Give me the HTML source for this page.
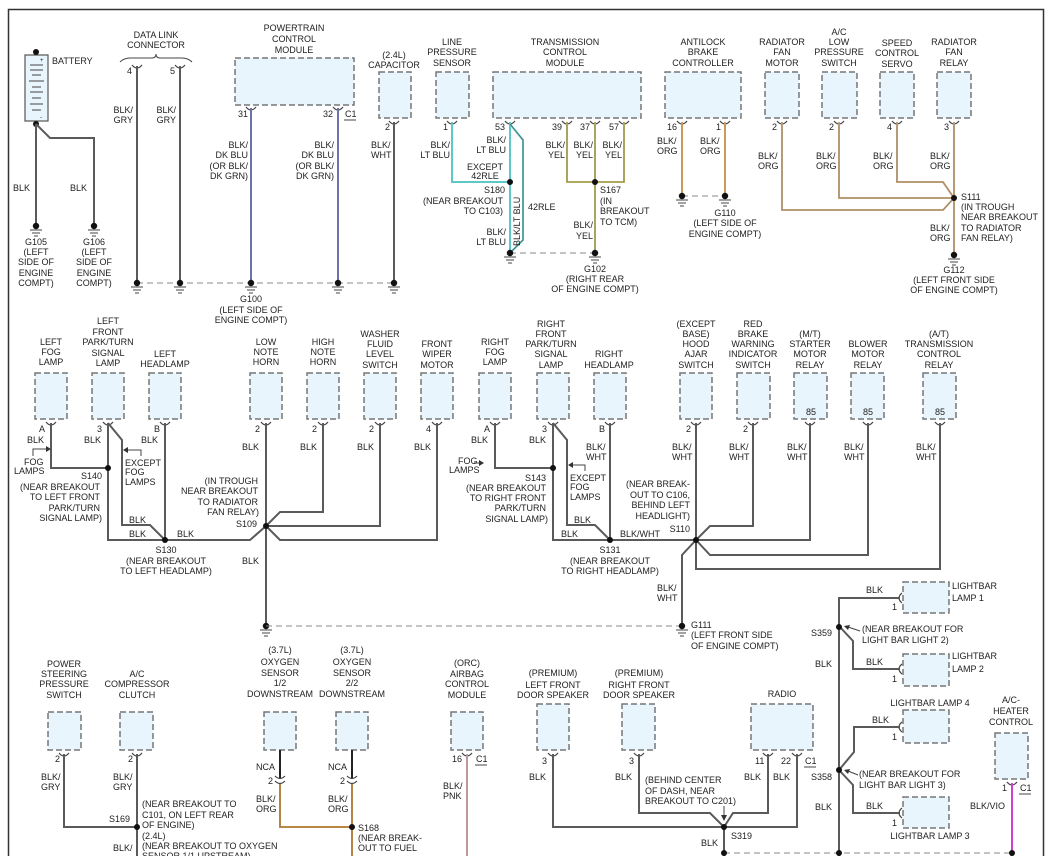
<!DOCTYPE html>
<html><head><meta charset="utf-8"><style>
html,body{margin:0;padding:0;background:#fff;}
svg{display:block;}
text{font-family:"Liberation Sans",Arial,sans-serif;font-size:9px;fill:#222;}
.c{text-anchor:middle}
.r{text-anchor:end}
.b{fill:#e8f5fc;stroke:#777;stroke-width:1.5;stroke-dasharray:6,3}
.w{fill:none;stroke:#5a5a5a;stroke-width:2}
.p{fill:none;stroke:#444;stroke-width:1.2}
.d{fill:none;stroke:#888;stroke-width:1;stroke-dasharray:6,4}
</style></head><body>
<svg width="1049" height="856" viewBox="0 0 1049 856" xmlns="http://www.w3.org/2000/svg">
<defs>
<g id="gnd"><circle cx="0" cy="0" r="3.2" fill="#111"/><path d="M-6 4h12M-4 7h8M-2 10h4" stroke="#444" stroke-width="1"/></g>
<g id="pin"><path d="M-5 -3q5 6 10 0" fill="none" stroke="#444" stroke-width="1.2"/></g>
<g id="pinL"><path d="M3 -5q-6 5 0 10" fill="none" stroke="#444" stroke-width="1.2"/></g>
</defs>
<rect x="8.5" y="9.5" width="1035" height="870" fill="none" stroke="#333" stroke-width="1.5"/>

<!-- Battery -->
<rect x="25" y="55" width="23" height="66" fill="#e8f5fc" stroke="#555" stroke-width="1.2"/>
<path d="M30 65h13M30 70h13M32 75h9M29 81h15M32 87h9M30 92h13M32 98h9M30 104h13M32 110h9" stroke="#444" stroke-width="1"/>
<text x="40" y="62" style="font-size:6px">+</text><text x="40" y="119" style="font-size:6px">-</text>
<circle cx="36" cy="52" r="3" fill="#111"/><circle cx="36" cy="124" r="3" fill="#111"/>
<text x="52" y="64">BATTERY</text>
<path class="w" d="M36 124V226M36 124L50 138H94V226"/>
<use href="#gnd" x="36" y="226"/><use href="#gnd" x="94" y="226"/>
<text x="13" y="191">BLK</text><text x="70" y="191">BLK</text>
<g class="c"><text x="36" y="245">G105</text><text x="36" y="255">(LEFT</text><text x="36" y="265">SIDE OF</text><text x="36" y="276">ENGINE</text><text x="36" y="286">COMPT)</text>
<text x="94" y="245">G106</text><text x="94" y="255">(LEFT</text><text x="94" y="265">SIDE OF</text><text x="94" y="276">ENGINE</text><text x="94" y="286">COMPT)</text></g>

<!-- Data link -->
<g class="c"><text x="156" y="38">DATA LINK</text><text x="156" y="48">CONNECTOR</text></g>
<path d="M120 62q4-4 10-4h22q4 0 4-4q0 4 4 4h22q6 0 10 4" fill="none" stroke="#444" stroke-width="1"/>
<use href="#pin" x="137" y="68"/><use href="#pin" x="180" y="68"/>
<text x="127" y="74">4</text><text x="170" y="74">5</text>
<path class="w" d="M137 66V283M180 66V283"/>
<g class="r"><text x="133" y="113">BLK/</text><text x="133" y="123">GRY</text><text x="176" y="113">BLK/</text><text x="176" y="123">GRY</text></g>

<!-- PCM -->
<g class="c"><text x="294" y="31">POWERTRAIN</text><text x="294" y="42">CONTROL</text><text x="294" y="53">MODULE</text></g>
<rect class="b" x="235" y="58" width="119" height="47"/>
<use href="#pin" x="251" y="110"/><use href="#pin" x="338" y="110"/>
<text x="238" y="117">31</text><text x="323" y="117">32</text><text x="345" y="117">C1</text><path d="M344 120h12" stroke="#444"/>
<path d="M251 108V283M338 108V283" stroke="#6a74a8" stroke-width="2" fill="none"/>
<g class="r"><text x="248" y="148">BLK/</text><text x="248" y="158">DK BLU</text><text x="248" y="169">(OR BLK/</text><text x="248" y="179">DK GRN)</text>
<text x="334" y="148">BLK/</text><text x="334" y="158">DK BLU</text><text x="334" y="169">(OR BLK/</text><text x="334" y="179">DK GRN)</text></g>

<!-- Capacitor -->
<g class="c"><text x="394" y="58">(2.4L)</text><text x="394" y="68">CAPACITOR</text></g>
<rect class="b" x="379" y="72" width="32" height="46"/>
<use href="#pin" x="394" y="124"/><text x="385" y="130">2</text>
<path class="w" d="M394 122V283"/>
<text x="371" y="148">BLK/</text><text x="371" y="158">WHT</text>
<path class="d" d="M137 283H394"/>
<use href="#gnd" x="137" y="283"/><use href="#gnd" x="180" y="283"/><use href="#gnd" x="251" y="283"/><use href="#gnd" x="338" y="283"/><use href="#gnd" x="394" y="283"/>
<g class="c"><text x="251" y="302">G100</text><text x="251" y="313">(LEFT SIDE OF</text><text x="251" y="323">ENGINE COMPT)</text></g>

<!-- Line pressure -->
<g class="c"><text x="452" y="45">LINE</text><text x="452" y="55">PRESSURE</text><text x="452" y="66">SENSOR</text></g>
<rect class="b" x="436" y="72" width="33" height="46"/>
<use href="#pin" x="452" y="124"/><text x="443" y="130">1</text>
<path d="M452 122V182H510" stroke="#5cc8c8" stroke-width="2" fill="none"/>
<g class="r"><text x="450" y="148">BLK/</text><text x="450" y="158">LT BLU</text></g>

<!-- TCM -->
<g class="c"><text x="565" y="45">TRANSMISSION</text><text x="565" y="55">CONTROL</text><text x="565" y="66">MODULE</text></g>
<rect class="b" x="493" y="72" width="148" height="46"/>
<use href="#pin" x="510" y="124"/><use href="#pin" x="567" y="124"/><use href="#pin" x="595" y="124"/><use href="#pin" x="624" y="124"/>
<text x="495" y="130">53</text><text x="552" y="130">39</text><text x="580" y="130">37</text><text x="609" y="130">57</text>
<path d="M510 122V253M510 124L523 140V240L510 253" stroke="#5cc8c8" stroke-width="2" fill="none"/>
<path d="M510 124L523 140V240L510 253" stroke="#555" stroke-width="0.6" fill="none"/>
<circle cx="510" cy="182" r="3" fill="#111"/>
<text transform="translate(520,246) rotate(-90)" style="font-size:9px">BLK/LT BLU</text>
<text x="528" y="210">42RLE</text>
<g class="r"><text x="506" y="143">BLK/</text><text x="506" y="153">LT BLU</text>
<text x="505" y="193">S180</text><text x="503" y="204">(NEAR BREAKOUT</text><text x="503" y="214">TO C103)</text>
<text x="506" y="235">BLK/</text><text x="506" y="245">LT BLU</text></g>
<g class="c"><text x="485" y="170">EXCEPT</text><text x="485" y="179">42RLE</text></g>
<path d="M567 122V182H624V122M595 122V253" stroke="#c8bf5a" stroke-width="2" fill="none"/>
<path d="M567 122V182H624V122M595 122V253" stroke="#666" stroke-width="0.6" fill="none"/>
<circle cx="595" cy="182" r="3" fill="#111"/>
<g class="r"><text x="565" y="148">BLK/</text><text x="565" y="158">YEL</text><text x="593" y="148">BLK/</text><text x="593" y="158">YEL</text><text x="622" y="148">BLK/</text><text x="622" y="158">YEL</text>
<text x="593" y="228">BLK/</text><text x="593" y="239">YEL</text></g>
<text x="600" y="193">S167</text><text x="600" y="204">(IN</text><text x="600" y="214">BREAKOUT</text><text x="600" y="225">TO TCM)</text>
<path class="d" d="M510 253H595"/>
<use href="#gnd" x="510" y="253"/><use href="#gnd" x="595" y="253"/>
<g class="c"><text x="595" y="272">G102</text><text x="595" y="282">(RIGHT REAR</text><text x="595" y="292">OF ENGINE COMPT)</text></g>

<!-- ABC -->
<g class="c"><text x="703" y="45">ANTILOCK</text><text x="703" y="55">BRAKE</text><text x="703" y="66">CONTROLLER</text></g>
<rect class="b" x="665" y="72" width="76" height="46"/>
<use href="#pin" x="682" y="124"/><use href="#pin" x="725" y="124"/>
<text x="667" y="130">16</text><text x="716" y="130">1</text>
<path d="M682 122V196M725 122V196" stroke="#c99a5a" stroke-width="2" fill="none"/>
<path class="d" d="M682 196H725"/>
<use href="#gnd" x="682" y="196"/><use href="#gnd" x="725" y="196"/>
<text x="657" y="144">BLK/</text><text x="657" y="154">ORG</text><text x="700" y="144">BLK/</text><text x="700" y="154">ORG</text>
<g class="c"><text x="725" y="216">G110</text><text x="725" y="226">(LEFT SIDE OF</text><text x="725" y="237">ENGINE COMPT)</text></g>

<!-- Radiator fan etc -->
<g class="c"><text x="782" y="45">RADIATOR</text><text x="782" y="55">FAN</text><text x="782" y="66">MOTOR</text>
<text x="839" y="35">A/C</text><text x="839" y="45">LOW</text><text x="839" y="55">PRESSURE</text><text x="839" y="66">SWITCH</text>
<text x="897" y="46">SPEED</text><text x="897" y="56">CONTROL</text><text x="897" y="67">SERVO</text>
<text x="954" y="45">RADIATOR</text><text x="954" y="55">FAN</text><text x="954" y="66">RELAY</text></g>
<rect class="b" x="765" y="72" width="34" height="46"/><rect class="b" x="822" y="72" width="35" height="46"/><rect class="b" x="880" y="72" width="34" height="46"/><rect class="b" x="937" y="72" width="34" height="46"/>
<use href="#pin" x="782" y="124"/><use href="#pin" x="839" y="124"/><use href="#pin" x="897" y="124"/><use href="#pin" x="954" y="124"/>
<text x="772" y="130">2</text><text x="829" y="130">2</text><text x="887" y="130">4</text><text x="944" y="130">3</text>
<path d="M782 122V210H943L954 198M839 122V198H954M897 122V182H943L954 198M954 122V255" stroke="#d0a878" stroke-width="2" fill="none"/>
<path d="M782 122V210H943L954 198M839 122V198H954M897 122V182H943L954 198M954 122V255" stroke="#777" stroke-width="0.6" fill="none"/>
<circle cx="954" cy="198" r="3" fill="#111"/>
<use href="#gnd" x="954" y="255"/>
<text x="758" y="159">BLK/</text><text x="758" y="169">ORG</text><text x="816" y="159">BLK/</text><text x="816" y="169">ORG</text><text x="873" y="159">BLK/</text><text x="873" y="169">ORG</text><text x="930" y="159">BLK/</text><text x="930" y="169">ORG</text>
<text x="930" y="231">BLK/</text><text x="930" y="241">ORG</text>
<text x="961" y="200">S111</text><text x="961" y="210">(IN TROUGH</text><text x="961" y="220">NEAR BREAKOUT</text><text x="961" y="231">TO RADIATOR</text><text x="961" y="241">FAN RELAY)</text>
<g class="c"><text x="954" y="273">G112</text><text x="954" y="283">(LEFT FRONT SIDE</text><text x="954" y="293">OF ENGINE COMPT)</text></g>

<!-- ===== MIDDLE ROW ===== -->
<g class="c">
<text x="51" y="345">LEFT</text><text x="51" y="355">FOG</text><text x="51" y="365">LAMP</text>
<text x="108" y="335">FRONT</text><text x="108" y="345">PARK/TURN</text><text x="108" y="356">SIGNAL</text><text x="108" y="366">LAMP</text><text x="108" y="324">LEFT</text>
<text x="165" y="357">LEFT</text><text x="165" y="367">HEADLAMP</text>
<text x="266" y="345">LOW</text><text x="266" y="355">NOTE</text><text x="266" y="365">HORN</text>
<text x="323" y="345">HIGH</text><text x="323" y="355">NOTE</text><text x="323" y="365">HORN</text>
<text x="380" y="337">WASHER</text><text x="380" y="347">FLUID</text><text x="380" y="357">LEVEL</text><text x="380" y="368">SWITCH</text>
<text x="437" y="347">FRONT</text><text x="437" y="357">WIPER</text><text x="437" y="368">MOTOR</text>
<text x="495" y="345">RIGHT</text><text x="495" y="355">FOG</text><text x="495" y="365">LAMP</text>
<text x="551" y="327">RIGHT</text><text x="551" y="337">FRONT</text><text x="551" y="347">PARK/TURN</text><text x="551" y="357">SIGNAL</text><text x="551" y="368">LAMP</text>
<text x="609" y="357">RIGHT</text><text x="609" y="368">HEADLAMP</text>
<text x="696" y="327">(EXCEPT</text><text x="696" y="337">BASE)</text><text x="696" y="347">HOOD</text><text x="696" y="357">AJAR</text><text x="696" y="368">SWITCH</text>
<text x="753" y="327">RED</text><text x="753" y="337">BRAKE</text><text x="753" y="347">WARNING</text><text x="753" y="357">INDICATOR</text><text x="753" y="368">SWITCH</text>
<text x="810" y="337">(M/T)</text><text x="810" y="347">STARTER</text><text x="810" y="357">MOTOR</text><text x="810" y="368">RELAY</text>
<text x="868" y="347">BLOWER</text><text x="868" y="357">MOTOR</text><text x="868" y="368">RELAY</text>
<text x="939" y="337">(A/T)</text><text x="939" y="347">TRANSMISSION</text><text x="939" y="357">CONTROL</text><text x="939" y="368">RELAY</text>
</g>
<rect class="b" x="35" y="373" width="32" height="46"/><rect class="b" x="92" y="373" width="32" height="46"/><rect class="b" x="149" y="373" width="32" height="46"/>
<rect class="b" x="250" y="373" width="32" height="46"/><rect class="b" x="307" y="373" width="32" height="46"/><rect class="b" x="364" y="373" width="32" height="46"/><rect class="b" x="421" y="373" width="32" height="46"/>
<rect class="b" x="479" y="373" width="32" height="46"/><rect class="b" x="537" y="373" width="32" height="46"/><rect class="b" x="594" y="373" width="32" height="46"/>
<rect class="b" x="680" y="373" width="32" height="46"/><rect class="b" x="737" y="373" width="33" height="46"/><rect class="b" x="794" y="373" width="33" height="46"/><rect class="b" x="851" y="373" width="33" height="46"/><rect class="b" x="923" y="373" width="33" height="46"/>
<g class="c"><text x="811" y="415">85</text><text x="868" y="415">85</text><text x="940" y="415">85</text></g>
<g>
<use href="#pin" x="51" y="425"/><use href="#pin" x="108" y="425"/><use href="#pin" x="165" y="425"/><use href="#pin" x="266" y="425"/><use href="#pin" x="323" y="425"/><use href="#pin" x="380" y="425"/><use href="#pin" x="437" y="425"/>
<use href="#pin" x="495" y="425"/><use href="#pin" x="553" y="425"/><use href="#pin" x="610" y="425"/><use href="#pin" x="696" y="425"/><use href="#pin" x="753" y="425"/><use href="#pin" x="810" y="425"/><use href="#pin" x="868" y="425"/><use href="#pin" x="940" y="425"/>
</g>
<text x="39" y="432">A</text><text x="97" y="432">3</text><text x="154" y="432">B</text><text x="255" y="432">2</text><text x="312" y="432">2</text><text x="369" y="432">2</text><text x="426" y="432">4</text>
<text x="484" y="432">A</text><text x="542" y="432">3</text><text x="599" y="432">B</text><text x="686" y="432">2</text><text x="743" y="432">2</text>
<text x="27" y="443">BLK</text><text x="84" y="443">BLK</text><text x="141" y="443">BLK</text>
<text x="242" y="450">BLK</text><text x="300" y="450">BLK</text><text x="357" y="450">BLK</text><text x="414" y="450">BLK</text>
<text x="471" y="443">BLK</text><text x="529" y="443">BLK</text>
<text x="586" y="450">BLK/</text><text x="586" y="460">WHT</text><text x="672" y="450">BLK/</text><text x="672" y="460">WHT</text><text x="729" y="450">BLK/</text><text x="729" y="460">WHT</text><text x="787" y="450">BLK/</text><text x="787" y="460">WHT</text><text x="844" y="450">BLK/</text><text x="844" y="460">WHT</text><text x="916" y="450">BLK/</text><text x="916" y="460">WHT</text>

<path class="w" d="M51 423V468H108M108 423V540H165M108 423L122 440V525H150L165 540M165 423V540H250L266 526M266 423V626M323 423V512H280L266 526M380 423V526H266M437 423V540H280L266 526"/>
<circle cx="108" cy="468" r="3" fill="#111"/><circle cx="165" cy="540" r="3" fill="#111"/><circle cx="266" cy="526" r="3" fill="#111"/>
<path d="M33 456V449H47" stroke="#444" fill="none"/><path d="M51 449l-5-3v6z" fill="#333"/>
<text x="24" y="465">FOG</text><text x="14" y="474">LAMPS</text>
<path d="M141 456V450H127" stroke="#444" fill="none"/><path d="M123 450l5-3v6z" fill="#333"/>
<text x="125" y="466">EXCEPT</text><text x="125" y="475">FOG</text><text x="125" y="485">LAMPS</text>
<g class="r"><text x="102" y="479">S140</text><text x="100" y="490">(NEAR BREAKOUT</text><text x="100" y="500">TO LEFT FRONT</text><text x="100" y="511">PARK/TURN</text><text x="102" y="521">SIGNAL LAMP)</text>
<text x="258" y="484">(IN TROUGH</text><text x="258" y="494">NEAR BREAKOUT</text><text x="258" y="505">TO RADIATOR</text><text x="259" y="515">FAN RELAY)</text><text x="257" y="527">S109</text></g>
<text x="129" y="523">BLK</text><text x="129" y="537">BLK</text><text x="177" y="537">BLK</text>
<g class="c"><text x="166" y="553">S130</text><text x="166" y="564">(NEAR BREAKOUT</text><text x="166" y="574">TO LEFT HEADLAMP)</text></g>
<text x="242" y="564">BLK</text>
<use href="#gnd" x="266" y="626"/>
<path class="d" d="M266 626H682"/>

<path class="w" d="M495 423V468H553M553 423V540H610M553 423L567 440V525H595L610 540M610 423V540H696M696 423V540M753 423V526H710L696 540M810 423V540H696M868 423V555H710L696 540M940 423V569H696V540M696 540L682 555V626"/>
<circle cx="553" cy="468" r="3" fill="#111"/><circle cx="610" cy="540" r="3" fill="#111"/><circle cx="696" cy="540" r="3" fill="#111"/>
<text x="458" y="464">FOG</text><text x="449" y="473">LAMPS</text>
<path d="M482 463H474" stroke="#444"/><path d="M484 463l-5-3v6z" fill="#333"/>
<path d="M585 471V465H572" stroke="#444" fill="none"/><path d="M568 465l5-3v6z" fill="#333"/>
<text x="570" y="481">EXCEPT</text><text x="570" y="490">FOG</text><text x="570" y="500">LAMPS</text>
<g class="r"><text x="546" y="481">S143</text><text x="546" y="491">(NEAR BREAKOUT</text><text x="546" y="501">TO RIGHT FRONT</text><text x="546" y="511">PARK/TURN</text><text x="548" y="522">SIGNAL LAMP)</text>
<text x="690" y="487">(NEAR BREAK-</text><text x="690" y="498">OUT TO C106,</text><text x="690" y="508">BEHIND LEFT</text><text x="690" y="519">HEADLIGHT)</text><text x="690" y="532">S110</text></g>
<text x="574" y="523">BLK</text><text x="561" y="537">BLK</text><text x="620" y="537">BLK/WHT</text>
<g class="c"><text x="610" y="553">S131</text><text x="610" y="564">(NEAR BREAKOUT</text><text x="610" y="574">TO RIGHT HEADLAMP)</text></g>
<text x="657" y="591">BLK/</text><text x="657" y="601">WHT</text>
<use href="#gnd" x="682" y="626"/>
<text x="691" y="628">G111</text><text x="691" y="638">(LEFT FRONT SIDE</text><text x="691" y="649">OF ENGINE COMPT)</text>

<!-- Lightbars -->
<rect class="b" x="903" y="582" width="46" height="31"/><rect class="b" x="903" y="654" width="46" height="32"/><rect class="b" x="903" y="710" width="46" height="33"/><rect class="b" x="903" y="797" width="46" height="31"/>
<use href="#pinL" x="899" y="598"/><use href="#pinL" x="899" y="669"/><use href="#pinL" x="899" y="727"/><use href="#pinL" x="899" y="813"/>
<text x="892" y="610">1</text><text x="892" y="682">1</text><text x="892" y="740">1</text><text x="892" y="826">1</text>
<text x="952" y="589">LIGHTBAR</text><text x="952" y="601">LAMP 1</text><text x="952" y="659">LIGHTBAR</text><text x="952" y="672">LAMP 2</text>
<g class="c"><text x="930" y="706">LIGHTBAR LAMP 4</text><text x="930" y="839">LIGHTBAR LAMP 3</text></g>
<path class="w" d="M900 598H839V856M839 626L853 641V669H900M900 727H854V752L839 770M839 770L853 785V813H900"/>
<circle cx="839" cy="627" r="3" fill="#111"/><circle cx="839" cy="770" r="3" fill="#111"/>
<text x="866" y="593">BLK</text><text x="866" y="665">BLK</text><text x="872" y="723">BLK</text><text x="866" y="809">BLK</text>
<text x="815" y="667">BLK</text><text x="815" y="810">BLK</text>
<g class="r"><text x="832" y="636">S359</text><text x="832" y="780">S358</text></g>
<path d="M860 631L848 627" stroke="#444"/><path d="M844 626l6-1-2 5z" fill="#333"/>
<text x="862" y="632">(NEAR BREAKOUT FOR</text><text x="862" y="643">LIGHT BAR LIGHT 2)</text>
<path d="M858 775L848 771" stroke="#444"/><path d="M844 770l6-1-2 5z" fill="#333"/>
<text x="859" y="777">(NEAR BREAKOUT FOR</text><text x="859" y="788">LIGHT BAR LIGHT 3)</text>

<!-- A/C heater -->
<g class="c"><text x="1011" y="703">A/C-</text><text x="1011" y="714">HEATER</text><text x="1011" y="725">CONTROL</text></g>
<rect class="b" x="995" y="733" width="33" height="46"/>
<use href="#pin" x="1012" y="785"/><text x="1002" y="791">1</text><text x="1020" y="791">C1</text><path d="M1019 794h12" stroke="#444"/>
<path d="M1012 783V856" stroke="#d040d0" stroke-width="2"/>
<text x="970" y="809">BLK/VIO</text>

<!-- Radio & speakers -->
<g class="c"><text x="553" y="676">(PREMIUM)</text><text x="553" y="688">LEFT FRONT</text><text x="553" y="698">DOOR SPEAKER</text>
<text x="639" y="676">(PREMIUM)</text><text x="639" y="688">RIGHT FRONT</text><text x="639" y="698">DOOR SPEAKER</text>
<text x="782" y="697">RADIO</text></g>
<rect class="b" x="537" y="704" width="32" height="46"/><rect class="b" x="622" y="704" width="33" height="46"/><rect class="b" x="751" y="704" width="62" height="46"/>
<use href="#pin" x="553" y="756"/><use href="#pin" x="639" y="756"/><use href="#pin" x="768" y="756"/><use href="#pin" x="797" y="756"/>
<text x="542" y="764">3</text><text x="629" y="764">3</text><text x="755" y="764">11</text><text x="781" y="764">22</text><text x="805" y="764">C1</text><path d="M804 767h12" stroke="#444"/>
<path class="w" d="M553 754V827H724M639 754V813H710L724 827M768 754V813H733L724 827M797 754V827H724M724 827V856"/>
<circle cx="724" cy="827" r="3" fill="#111"/>
<text x="529" y="780">BLK</text><text x="615" y="780">BLK</text><text x="744" y="780">BLK</text><text x="773" y="780">BLK</text>
<text x="645" y="783">(BEHIND CENTER</text><text x="645" y="794">OF DASH, NEAR</text><text x="645" y="804">BREAKOUT TO C201)</text>
<path d="M724 806V816" stroke="#444"/><path d="M724 821l-3-6h6z" fill="#333"/>
<text x="731" y="839">S319</text><text x="701" y="846">BLK</text>
<path class="d" d="M724 853H1012"/>
<circle cx="724" cy="853" r="3" fill="#111"/><circle cx="839" cy="853" r="3" fill="#111"/><circle cx="1012" cy="853" r="3" fill="#111"/>

<!-- Bottom left -->
<g class="c"><text x="64" y="667">POWER</text><text x="64" y="677">STEERING</text><text x="64" y="687">PRESSURE</text><text x="64" y="698">SWITCH</text>
<text x="137" y="677">A/C</text><text x="137" y="687">COMPRESSOR</text><text x="137" y="698">CLUTCH</text>
<text x="280" y="653">(3.7L)</text><text x="280" y="665">OXYGEN</text><text x="280" y="676">SENSOR</text><text x="280" y="686">1/2</text><text x="280" y="697">DOWNSTREAM</text>
<text x="352" y="653">(3.7L)</text><text x="352" y="665">OXYGEN</text><text x="352" y="676">SENSOR</text><text x="352" y="686">2/2</text><text x="352" y="697">DOWNSTREAM</text>
<text x="467" y="666">(ORC)</text><text x="467" y="677">AIRBAG</text><text x="467" y="687">CONTROL</text><text x="467" y="698">MODULE</text></g>
<rect class="b" x="48" y="712" width="33" height="38"/><rect class="b" x="120" y="712" width="33" height="38"/><rect class="b" x="264" y="712" width="32" height="38"/><rect class="b" x="336" y="712" width="32" height="38"/><rect class="b" x="451" y="712" width="32" height="38"/>
<use href="#pin" x="64" y="756"/><use href="#pin" x="137" y="756"/><use href="#pin" x="467" y="756"/>
<text x="55" y="762">2</text><text x="128" y="762">2</text><text x="452" y="762">16</text><text x="476" y="762">C1</text><path d="M475 765h12" stroke="#444"/>
<path class="w" d="M64 754V827H137M137 754V856"/>
<circle cx="137" cy="827" r="3" fill="#111"/>
<text x="41" y="780">BLK/</text><text x="41" y="790">GRY</text><text x="113" y="780">BLK/</text><text x="113" y="790">GRY</text>
<text x="113" y="851">BLK/</text>
<text x="130" y="822" class="r">S169</text>
<text x="142" y="807">(NEAR BREAKOUT TO</text><text x="142" y="818">C101, ON LEFT REAR</text><text x="142" y="828">OF ENGINE)</text><text x="142" y="839">(2.4L)</text><text x="142" y="849">(NEAR BREAKOUT TO OXYGEN</text><text x="142" y="859">SENSOR 1/1 UPSTREAM)</text>
<path d="M280 750V778M352 750V778" stroke="#222" stroke-width="2"/>
<path d="M275 776q5 5 10 0M275 781q5 5 10 0M347 776q5 5 10 0M347 781q5 5 10 0" fill="none" stroke="#444" stroke-width="1.2"/>
<text x="256" y="770">NCA</text><text x="328" y="770">NCA</text><text x="268" y="784">2</text><text x="340" y="784">2</text>
<path d="M280 784V827H352M352 784V856" stroke="#d8903a" stroke-width="2" fill="none"/>
<path d="M280 784V827H352M352 784V856" stroke="#666" stroke-width="0.6" fill="none"/>
<circle cx="352" cy="827" r="3" fill="#111"/>
<text x="256" y="802">BLK/</text><text x="256" y="812">ORG</text><text x="328" y="802">BLK/</text><text x="328" y="812">ORG</text>
<text x="358" y="831">S168</text><text x="358" y="841">(NEAR BREAK-</text><text x="358" y="851">OUT TO FUEL</text>
<path d="M467 754V856" stroke="#d8a0a8" stroke-width="2"/>
<path d="M467 754V856" stroke="#888" stroke-width="0.6"/>
<text x="443" y="789">BLK/</text><text x="443" y="799">PNK</text>
</svg>
</body></html>
